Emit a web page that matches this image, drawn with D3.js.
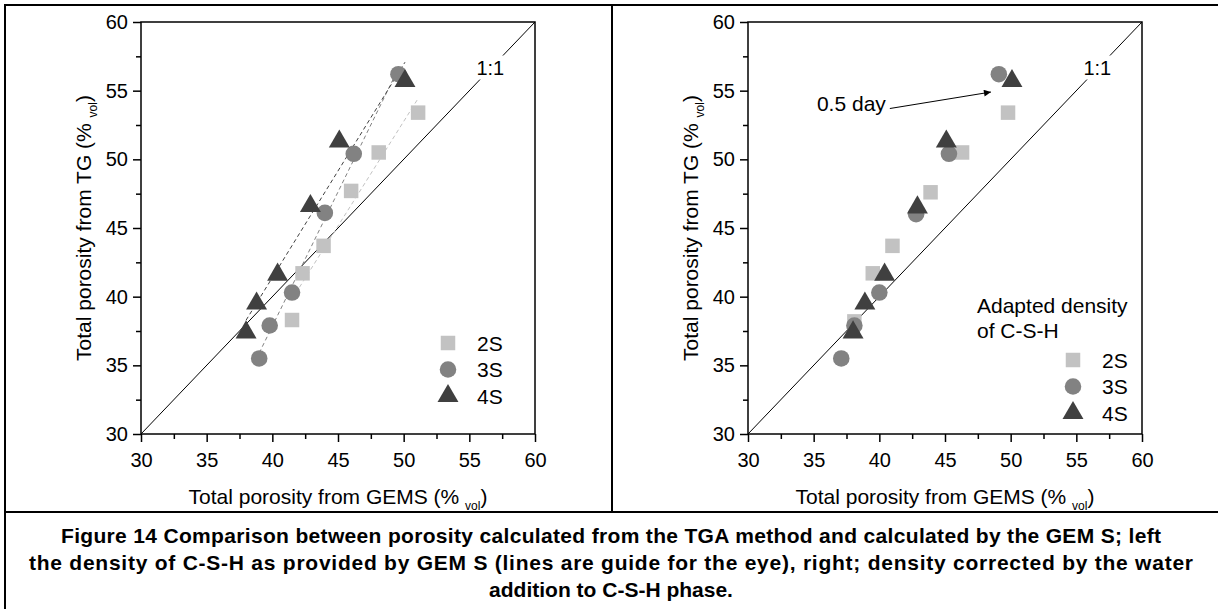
<!DOCTYPE html>
<html>
<head>
<meta charset="utf-8">
<script src="https://cdn.jsdelivr.net/npm/d3@7"></script>
<style>
body { margin: 0; background: #fff; }
text { font-family: "Liberation Sans", Arial, sans-serif; fill: #000; }
</style>
</head>
<body>
<svg id="chart" width="1218" height="609"></svg>
<script>
'use strict';

var seriesNames = ['2S', '3S', '4S'];
var axisTicks = [30, 35, 40, 45, 50, 55, 60];
var minorTicks = [32.5, 37.5, 42.5, 47.5, 52.5, 57.5];

// left panel: density of C-S-H as provided by GEMS
var leftGems2S = [41.5, 42.3, 43.9, 46.0, 48.1, 51.1];
var leftTg2S   = [38.3, 41.7, 43.7, 47.7, 50.5, 53.4];
var leftGems3S = [39.0, 39.8, 41.5, 44.0, 46.2, 49.6];
var leftTg3S   = [35.5, 37.9, 40.3, 46.1, 50.4, 56.2];
var leftGems4S = [38.0, 38.8, 40.4, 42.9, 45.1, 50.1];
var leftTg4S   = [37.4, 39.5, 41.6, 46.6, 51.3, 55.7];

// right panel: adapted density of C-S-H
var rightGems2S = [38.1, 39.5, 41.0, 43.9, 46.3, 49.8];
var rightTg2S   = [38.2, 41.7, 43.7, 47.6, 50.5, 53.4];
var rightGems3S = [37.1, 38.1, 40.0, 42.8, 45.3, 49.1];
var rightTg3S   = [35.5, 37.9, 40.3, 46.0, 50.4, 56.2];
var rightGems4S = [38.0, 38.9, 40.4, 42.9, 45.1, 50.1];
var rightTg4S   = [37.4, 39.5, 41.6, 46.5, 51.3, 55.7];

var captionLines = [
	'Figure 14 Comparison between porosity calculated from the TGA method and calculated by the GEM S; left',
	'the density of C-S-H as provided by GEM S (lines are guide for the eye), right; density corrected by the water',
	'addition to C-S-H phase.'
];
var captionWidths = [1100, 1164, null];

var fillColors = {'2S': '#c2c2c2', '3S': '#828282', '4S': '#404040'};
var symbolTypes = {'2S': d3.symbolSquare, '3S': d3.symbolCircle, '4S': d3.symbolTriangle};
var symbolSizes = {'2S': 210, '3S': 215, '4S': 190};

var nWidth = 394;
var nHeight = 412;

var svg = d3.select('#chart');

function zip(xs, ys)
{
	return xs.map(function (v, i) { return [v, ys[i]]; });
}

function fitLine(points)
{
	var mx = d3.mean(points, function (p) { return p[0]; });
	var my = d3.mean(points, function (p) { return p[1]; });
	var sxy = d3.sum(points, function (p) { return (p[0] - mx) * (p[1] - my); });
	var sxx = d3.sum(points, function (p) { return (p[0] - mx) * (p[0] - mx); });
	var b = sxy / sxx;
	var x0 = d3.min(points, function (p) { return p[0]; });
	var x1 = d3.max(points, function (p) { return p[0]; });
	return [[x0, my + b * (x0 - mx)], [x1, my + b * (x1 - mx)]];
}

function drawPanel(nLeft, aSeries, bGuides)
{
	var g = svg.append('g').attr('transform', 'translate(' + nLeft + ',22)');

	var x = d3.scaleLinear().domain([30, 60]).range([0, nWidth]);
	var y = d3.scaleLinear().domain([30, 60]).range([nHeight, 0]);

	// minor ticks
	g.append('g').attr('transform', 'translate(0,' + nHeight + ')')
		.call(d3.axisBottom(x).tickValues(minorTicks).tickSize(5).tickFormat(''));
	g.append('g')
		.call(d3.axisLeft(y).tickValues(minorTicks).tickSize(5).tickFormat(''));

	// major ticks
	g.append('g').attr('transform', 'translate(0,' + nHeight + ')')
		.call(d3.axisBottom(x).tickValues(axisTicks).tickSize(8).tickPadding(11));
	g.append('g')
		.call(d3.axisLeft(y).tickValues(axisTicks).tickSize(8).tickPadding(5));

	g.selectAll('.domain').remove();
	g.selectAll('.tick line').attr('stroke', '#000').attr('stroke-width', 1.5);
	g.selectAll('.tick text').attr('font-size', 20).attr('font-family', '"Liberation Sans", Arial, sans-serif');

	g.append('rect')
		.attr('width', nWidth).attr('height', nHeight)
		.attr('fill', 'none').attr('stroke', '#000').attr('stroke-width', 1.5);

	// 1:1 line
	g.append('line')
		.attr('x1', x(30)).attr('y1', y(30)).attr('x2', x(60)).attr('y2', y(60))
		.attr('stroke', '#000').attr('stroke-width', 1);

	var label = g.append('text')
		.attr('x', x(56.6)).attr('y', y(56.7))
		.attr('dy', '0.36em')
		.attr('text-anchor', 'middle')
		.attr('font-size', 20)
		.text('1:1');
	var bb = label.node().getBBox();
	g.insert('rect', function () { return label.node(); })
		.attr('x', bb.x - 3).attr('y', bb.y - 1)
		.attr('width', bb.width + 6).attr('height', bb.height + 2)
		.attr('fill', '#fff');

	// guide lines
	if (bGuides)
	{
		aSeries.forEach(function (s) {
			var seg = fitLine(s.points);
			g.append('line')
				.attr('x1', x(seg[0][0])).attr('y1', y(seg[0][1]))
				.attr('x2', x(seg[1][0])).attr('y2', y(seg[1][1]))
				.attr('stroke', fillColors[s.name])
				.attr('stroke-width', 1)
				.attr('stroke-dasharray', '4,3');
		});
	}

	// markers
	aSeries.forEach(function (s) {
		g.selectAll(null)
			.data(s.points)
			.enter()
			.append('path')
			.attr('d', d3.symbol().type(symbolTypes[s.name]).size(symbolSizes[s.name]))
			.attr('transform', function (p) { return 'translate(' + x(p[0]) + ',' + y(p[1]) + ')'; })
			.attr('fill', fillColors[s.name]);
	});

	// axis titles
	var tx = g.append('text')
		.attr('x', nWidth / 2).attr('y', nHeight + 70)
		.attr('text-anchor', 'middle')
		.attr('font-size', 21);
	tx.append('tspan').text('Total porosity from GEMS (% ');
	tx.append('tspan').attr('font-size', 12).attr('dy', 6).text('vol');
	tx.append('tspan').attr('dy', -6).text(')');

	var ty = g.append('text')
		.attr('transform', 'translate(-50,' + (nHeight / 2) + ') rotate(-90)')
		.attr('text-anchor', 'middle')
		.attr('font-size', 21);
	ty.append('tspan').text('Total porosity from TG (% ');
	ty.append('tspan').attr('font-size', 12).attr('dy', 6).text('vol');
	ty.append('tspan').attr('dy', -6).text(')');

	return {g: g, x: x, y: y};
}

function drawLegend(g, nX, nY, nStep)
{
	seriesNames.forEach(function (name, i) {
		g.append('path')
			.attr('d', d3.symbol().type(symbolTypes[name]).size(symbolSizes[name]))
			.attr('transform', 'translate(' + nX + ',' + (nY + i * nStep) + ')')
			.attr('fill', fillColors[name]);
		g.append('text')
			.attr('x', nX + 29).attr('y', nY + i * nStep)
			.attr('dy', '0.36em')
			.attr('font-size', 21)
			.text(name);
	});
}

var leftSeries = [
	{name: '2S', points: zip(leftGems2S, leftTg2S)},
	{name: '3S', points: zip(leftGems3S, leftTg3S)},
	{name: '4S', points: zip(leftGems4S, leftTg4S)}
];
var rightSeries = [
	{name: '2S', points: zip(rightGems2S, rightTg2S)},
	{name: '3S', points: zip(rightGems3S, rightTg3S)},
	{name: '4S', points: zip(rightGems4S, rightTg4S)}
];

var pl = drawPanel(141, leftSeries, true);
drawLegend(pl.g, 307, 321, 26.5);

var pr = drawPanel(748, rightSeries, false);
drawLegend(pr.g, 325, 338, 26.5);

pr.g.append('text').attr('x', 229).attr('y', 283).attr('dy', '0.36em').attr('font-size', 21).text('Adapted density');
pr.g.append('text').attr('x', 229).attr('y', 308).attr('dy', '0.36em').attr('font-size', 21).text('of C-S-H');

// 0.5 day arrow
svg.append('defs').append('marker')
	.attr('id', 'arrow')
	.attr('viewBox', '0 0 10 10')
	.attr('refX', 10).attr('refY', 5)
	.attr('markerWidth', 11).attr('markerHeight', 7)
	.attr('markerUnits', 'userSpaceOnUse')
	.attr('orient', 'auto')
	.append('path').attr('d', 'M0,0L10,5L0,10z').attr('fill', '#000');

pr.g.append('text').attr('x', pr.x(35.25)).attr('y', pr.y(54.1)).attr('dy', '0.36em').attr('font-size', 21).text('0.5 day');
pr.g.append('line')
	.attr('x1', pr.x(40.8)).attr('y1', pr.y(53.7))
	.attr('x2', pr.x(48.5)).attr('y2', pr.y(54.9))
	.attr('stroke', '#000').attr('stroke-width', 1)
	.attr('marker-end', 'url(#arrow)');

// table frame
var frame = svg.append('g').attr('stroke', '#000').attr('stroke-width', 2);
frame.append('line').attr('x1', 4).attr('y1', 5).attr('x2', 1218).attr('y2', 5);
frame.append('line').attr('x1', 5).attr('y1', 4).attr('x2', 5).attr('y2', 609);
frame.append('line').attr('x1', 612).attr('y1', 5).attr('x2', 612).attr('y2', 512);
frame.append('line').attr('x1', 5).attr('y1', 512).attr('x2', 1218).attr('y2', 512);

// caption
svg.selectAll('.caption')
	.data(captionLines)
	.enter()
	.append('text')
	.attr('class', 'caption')
	.attr('x', 611)
	.attr('y', function (d, i) { return 543 + i * 27; })
	.attr('text-anchor', 'middle')
	.attr('font-size', 21)
	.attr('font-weight', 'bold')
	.each(function (d, i) {
		if (captionWidths[i])
		{
			d3.select(this).attr('textLength', captionWidths[i]).attr('lengthAdjust', 'spacing');
		}
	})
	.text(function (d) { return d; });
</script>
</body>
</html>
